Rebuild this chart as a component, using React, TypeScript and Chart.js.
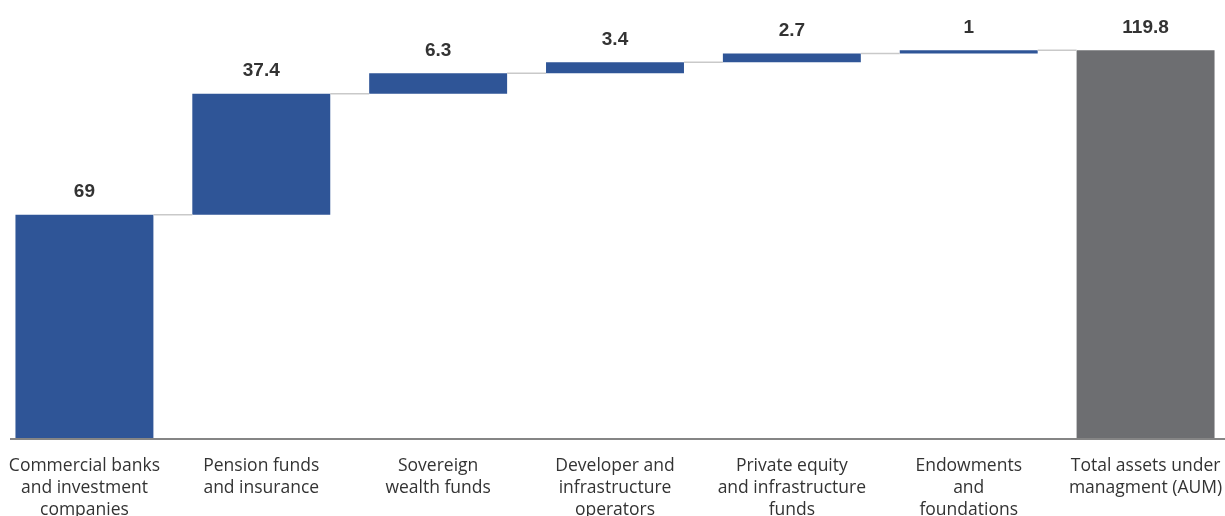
import React, { useEffect, useRef } from "react";
import { Chart, registerables } from "chart.js";

Chart.register(...registerables);

const categories: string[][] = [
  ["Commercial banks", "and investment", "companies"],
  ["Pension funds", "and insurance"],
  ["Sovereign", "wealth funds"],
  ["Developer and", "infrastructure", "operators"],
  ["Private equity", "and infrastructure", "funds"],
  ["Endowments", "and", "foundations"],
  ["Total assets under", "managment (AUM)"],
];
const increments: number[] = [69, 37.4, 6.3, 3.4, 2.7, 1];
const totalValue = 119.8;
const valueLabels: string[] = ["69", "37.4", "6.3", "3.4", "2.7", "1", "119.8"];

const BLUE = "#2F5597";
const GRAY = "#6D6E71";

export default function App() {
  const ref = useRef<HTMLCanvasElement | null>(null);
  useEffect(() => {
    if (!ref.current) return;
    const floating: [number, number][] = [];
    let acc = 0;
    for (const v of increments) {
      floating.push([acc, acc + v]);
      acc += v;
    }
    floating.push([0, totalValue]);
    const colors = floating.map((_, i) => (i === floating.length - 1 ? GRAY : BLUE));

    const extras = {
      id: "extras",
      afterDatasetsDraw(chart: any) {
        const ctx = chart.ctx;
        const meta = chart.getDatasetMeta(0);
        const y = chart.scales.y;
        ctx.save();
        // connectors
        ctx.strokeStyle = "#C9C9C9";
        ctx.lineWidth = 1.5;
        for (let i = 0; i < meta.data.length - 1; i++) {
          const a = meta.data[i];
          const b = meta.data[i + 1];
          const top = y.getPixelForValue(floating[i][1]);
          ctx.beginPath();
          ctx.moveTo(a.x + a.width / 2, top);
          ctx.lineTo(b.x - b.width / 2, top);
          ctx.stroke();
        }
        // value labels
        ctx.fillStyle = "#333333";
        ctx.font = "bold 19px 'Liberation Sans', Arial, sans-serif";
        ctx.textAlign = "center";
        ctx.textBaseline = "middle";
        meta.data.forEach((bar: any, i: number) => {
          const top = y.getPixelForValue(floating[i][1]);
          ctx.fillText(valueLabels[i], bar.x, top - 23);
        });
        // axis line
        const bottom = chart.chartArea.bottom;
        ctx.strokeStyle = "#858585";
        ctx.lineWidth = 2;
        ctx.beginPath();
        ctx.moveTo(14, bottom + 1);
        ctx.lineTo(chart.width, bottom + 1);
        ctx.stroke();
        ctx.restore();
      },
    };

    const chart = new Chart(ref.current, {
      type: "bar",
      data: {
        labels: categories,
        datasets: [
          {
            data: floating as any,
            backgroundColor: colors,
            borderWidth: 0,
            barPercentage: 0.78,
            categoryPercentage: 1,
          },
        ],
      },
      options: {
        animation: false,
        responsive: false,
        maintainAspectRatio: false,
        layout: { padding: { top: 16, left: 0, right: 0, bottom: 0 } },
        plugins: {
          legend: { display: false },
          tooltip: { enabled: false },
        },
        scales: {
          x: {
            grid: { display: false, drawTicks: false },
            border: { display: false },
            afterFit: (scale: any) => {
              scale.paddingLeft = 0;
              scale.paddingRight = 0;
            },
            ticks: {
              autoSkip: false,
              maxRotation: 0,
              minRotation: 0,
              padding: 17,
              color: "#333333",
              font: { family: "'Open Sans', sans-serif", size: 17.5, lineHeight: 1.257 },
            },
          },
          y: {
            display: false,
            min: 0,
            max: 130.4,
          },
        },
      },
      plugins: [extras],
    });
    return () => chart.destroy();
  }, []);

  return (
    <div style={{ position: "fixed", left: 0, top: 0, width: 1225, height: 516, overflow: "hidden", background: "#fff" }}>
      <div style={{ position: "absolute", left: -4, top: 0, width: 1238, height: 538 }}>
        <canvas ref={ref} width={1238} height={538} style={{ width: 1238, height: 538, display: "block" }} />
      </div>
    </div>
  );
}
